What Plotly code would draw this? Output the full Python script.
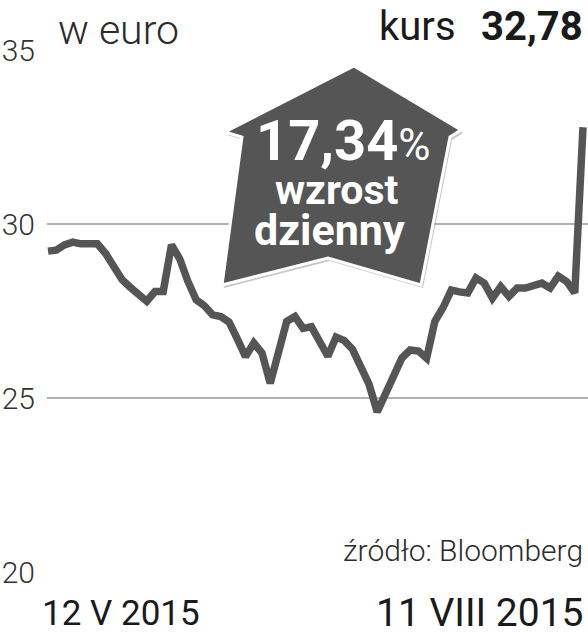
import plotly.graph_objects as go
import pandas as pd

# ---- data ----
dates = [d.strftime("%Y-%m-%d") for d in pd.bdate_range("2015-05-12", "2015-08-11")]
prices = [29.22, 29.25, 29.40, 29.48, 29.43, 29.44, 29.43, 29.15, 28.80, 28.40,
          28.18, 27.95, 27.78, 28.06, 28.06, 29.40, 29.00, 28.35, 27.82, 27.65,
          27.39, 27.34, 27.18, 26.70, 26.19, 26.58, 26.29, 25.42, 26.30, 27.20,
          27.34, 27.00, 27.05, 26.67, 26.20, 26.75, 26.65, 26.40, 25.95, 25.40,
          24.60, 25.10, 25.70, 26.15, 26.38, 26.35, 26.14, 27.20, 27.60, 28.10,
          28.05, 28.02, 28.45, 28.30, 27.87, 28.20, 27.92, 28.16, 28.16, 28.24,
          28.30, 28.16, 28.50, 28.35, 28.02, 32.78]
y_ticks = [20, 25, 30, 35]
date_labels = ["12 V 2015", "11 VIII 2015"]
unit_label = "w euro"
last_label = "kurs"
last_value = "32,78"
change_text = "17,34"
change_lines = ["wzrost", "dzienny"]
source_text = "źródło: Bloomberg"

W, H = 588, 640
L, R, T, B = 47, 0, 50, 68
PW, PH = W - L - R, H - T - B

def px(x):
    return (x - L) / PW

def py(y):
    return (H - B - y) / PH

n = len(dates)
upp = (n - 1) / 535.0

FONT = "Roboto"
DARK = "#2b2b2b"
GREY = "#555555"

fig = go.Figure()
fig.add_trace(go.Scatter(
    x=list(range(n)), y=prices, mode="lines",
    line=dict(color=GREY, width=7.5),
    hoverinfo="skip", showlegend=False,
))

# badge shape (arrow/house)
pts = [(354, 66), (225, 132), (242, 137), (222, 285), (328, 258), (421, 285), (450, 137), (461, 130)]

def path_of(points, dx=0, dy=0):
    s = "M " + " L ".join(f"{px(x+dx):.4f},{py(y+dy):.4f}" for x, y in points) + " Z"
    return s

shapes = [
    dict(type="path", xref="paper", yref="paper", path=path_of(pts, 2, 3),
         fillcolor="rgba(0,0,0,0.22)", line=dict(width=0), layer="above"),
    dict(type="path", xref="paper", yref="paper", path=path_of(pts),
         fillcolor=GREY, line=dict(color="white", width=3), layer="above"),
]

ann = []
ann.append(dict(text=unit_label, x=px(56), y=py(30), xref="paper", yref="paper",
                xanchor="left", yanchor="middle", showarrow=False,
                font=dict(family=FONT, size=41, color=DARK, weight=300)))
ann.append(dict(text=last_label, x=px(458), y=py(26), xref="paper", yref="paper",
                xanchor="right", yanchor="middle", showarrow=False,
                font=dict(family=FONT, size=40, color="#1a1a1a")))
ann.append(dict(text=f"<b>{last_value}</b>", x=px(585), y=py(26), xref="paper", yref="paper",
                xanchor="right", yanchor="middle", showarrow=False,
                font=dict(family=FONT, size=40, color="#1a1a1a")))
ann.append(dict(text=f"<b>{change_text}</b><span style='font-size:44px'>%</span>", x=px(343), y=py(141),
                xref="paper", yref="paper", xanchor="center", yanchor="middle", showarrow=False,
                font=dict(family=FONT, size=56, color="white")))
ann.append(dict(text=f"<b>{change_lines[0]}</b>", x=px(337), y=py(190), xref="paper", yref="paper",
                xanchor="center", yanchor="middle", showarrow=False,
                font=dict(family=FONT, size=41, color="white")))
ann.append(dict(text=f"<b>{change_lines[1]}</b>", x=px(329), y=py(230), xref="paper", yref="paper",
                xanchor="center", yanchor="middle", showarrow=False,
                font=dict(family=FONT, size=43, color="white")))
ann.append(dict(text=source_text, x=px(585), y=py(550), xref="paper", yref="paper",
                xanchor="right", yanchor="middle", showarrow=False,
                font=dict(family=FONT, size=30, color=DARK, weight=300)))
ann.append(dict(text=date_labels[0], x=px(40), y=py(613), xref="paper", yref="paper",
                xanchor="left", yanchor="middle", showarrow=False,
                font=dict(family=FONT, size=35, color="#1a1a1a")))
ann.append(dict(text=date_labels[1], x=px(586), y=py(613), xref="paper", yref="paper",
                xanchor="right", yanchor="middle", showarrow=False,
                font=dict(family=FONT, size=39, color="#1a1a1a")))

fig.update_layout(
    width=W, height=H, autosize=False,
    margin=dict(l=L, r=R, t=T, b=B, pad=0),
    paper_bgcolor="white", plot_bgcolor="white",
    showlegend=False,
    shapes=shapes, annotations=ann,
    xaxis=dict(range=[-1 * upp, (n - 1) + 5 * upp], showgrid=False, zeroline=False,
               showticklabels=False, showline=False, ticks="", fixedrange=True),
    yaxis=dict(range=[20, 35], tickvals=y_ticks, ticktext=[str(v) for v in y_ticks],
               showgrid=True, gridcolor="#b3b3b3", gridwidth=1.5, zeroline=False,
               showline=False, ticks="", ticklabelstandoff=11,
               tickfont=dict(family=FONT, size=30, color="#333333", weight=300),
               fixedrange=True),
)

fig.write_html("out.html", config={"displayModeBar": False},
               post_script="document.body.style.margin='0px';document.body.style.overflow='hidden';")
